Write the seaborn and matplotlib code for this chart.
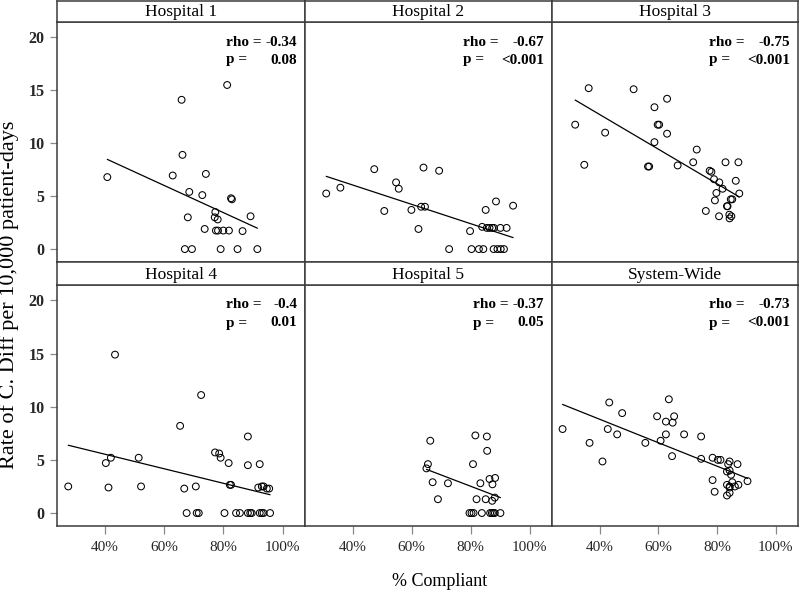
import numpy as np
import pandas as pd
import matplotlib
matplotlib.use("Agg")
import matplotlib.pyplot as plt
import seaborn as sns

# ---------------- data ----------------
panels = ["Hospital 1", "Hospital 2", "Hospital 3", "Hospital 4", "Hospital 5", "System-Wide"]

h1_compliance = [40.8, 65.9, 81.3, 66.2, 62.9, 74.1, 68.5, 72.9, 82.6, 82.9, 89.2, 77.3, 77.1,
                 78.1, 68.0, 73.7, 77.5, 78.2, 80.0, 81.9, 86.5, 67.0, 69.4, 79.1, 84.8, 91.5]
h1_rate = [6.8, 14.1, 15.5, 8.9, 6.95, 7.1, 5.4, 5.1, 4.8, 4.7, 3.1, 3.5, 3.0,
           2.8, 3.0, 1.9, 1.75, 1.75, 1.75, 1.75, 1.7, 0, 0, 0, 0, 0]

h2_compliance = [31.0, 35.8, 47.3, 54.7, 55.6, 50.7, 59.9, 63.2, 64.5, 64.0, 69.3, 62.3, 72.7,
                 79.8, 80.3, 82.8, 84.3, 85.1, 88.6, 94.4, 83.9, 85.5, 86.4, 87.3, 87.9, 90.1,
                 92.2, 87.8, 89.1, 90.2, 91.3]
h2_rate = [5.25, 5.8, 7.55, 6.3, 5.7, 3.6, 3.7, 4.0, 4.0, 7.7, 7.4, 1.9, 0,
           1.7, 0, 0, 0, 3.7, 4.5, 4.1, 2.1, 2.0, 2.0, 2.0, 2.0, 2.0,
           2.0, 0, 0, 0, 0]

h3_compliance = [36.3, 51.6, 63.0, 58.7, 31.7, 41.9, 59.8, 60.3, 63.0, 58.7, 73.1, 34.8, 56.5,
                 56.9, 66.6, 71.9, 77.5, 78.1, 82.9, 87.3, 79.0, 80.8, 86.4, 81.9, 79.8, 87.6,
                 79.3, 84.7, 85.2, 83.4, 83.6, 76.2, 80.7, 84.2, 84.9, 84.3]
h3_rate = [15.2, 15.1, 14.2, 13.4, 11.75, 11.0, 11.75, 11.75, 10.9, 10.1, 9.4, 7.96, 7.8,
           7.8, 7.9, 8.2, 7.4, 7.3, 8.2, 8.2, 6.6, 6.3, 6.45, 5.7, 5.3, 5.25,
           4.6, 4.7, 4.7, 4.05, 4.05, 3.6, 3.1, 3.25, 3.1, 2.9]

h4_compliance = [27.6, 43.4, 40.3, 42.0, 41.2, 51.4, 52.2, 65.4, 72.5, 66.8, 70.7, 67.6, 71.0,
                 71.7, 77.2, 78.6, 79.1, 81.8, 82.2, 82.6, 80.4, 84.3, 85.6, 88.3, 88.3, 92.3,
                 88.3, 89.1, 89.6, 91.8, 93.0, 93.6, 94.7, 95.5, 92.3, 93.0, 93.6, 95.8]
h4_rate = [2.5, 14.9, 4.7, 5.2, 2.4, 5.2, 2.5, 8.2, 11.1, 2.3, 2.5, 0, 0,
           0, 5.7, 5.6, 5.2, 4.7, 2.65, 2.65, 0, 0, 0, 7.2, 4.5, 4.6,
           0, 0, 0, 2.4, 2.5, 2.5, 2.3, 2.3, 0, 0, 0, 0]

h5_compliance = [66.3, 65.5, 65.0, 67.1, 72.3, 68.9, 81.6, 85.5, 85.6, 80.8, 83.3, 86.4, 88.3,
                 87.4, 82.0, 85.1, 87.3, 88.2, 79.6, 80.3, 81.0, 83.8, 86.6, 87.2, 87.7, 88.2, 90.1]
h5_rate = [6.8, 4.6, 4.2, 2.9, 2.8, 1.3, 7.3, 7.2, 5.85, 4.6, 2.8, 3.2, 3.3,
           2.7, 1.3, 1.3, 1.15, 1.45, 0, 0, 0, 0, 0, 0, 0, 0, 0]

sw_compliance = [27.4, 43.3, 47.7, 42.8, 46.0, 36.6, 41.0, 55.6, 63.6, 59.6, 65.4, 62.6, 64.9,
                 62.6, 60.8, 68.8, 74.6, 64.7, 74.6, 78.5, 80.3, 81.2, 84.3, 83.8, 87.0, 83.4,
                 84.3, 84.8, 78.5, 90.4, 85.2, 83.4, 84.3, 86.1, 87.3, 79.2, 84.3, 84.3, 83.4]
sw_rate = [7.9, 10.4, 9.4, 7.9, 7.4, 6.6, 4.85, 6.6, 10.7, 9.1, 9.1, 8.6, 8.5,
           7.4, 6.8, 7.4, 7.2, 5.35, 5.1, 5.2, 5.0, 5.0, 4.85, 4.6, 4.6, 3.9,
           4.0, 3.6, 3.1, 3.0, 2.9, 2.65, 2.5, 2.5, 2.65, 2.0, 2.4, 1.9, 1.65]

rho_text = ["-0.34", "-0.67", "-0.75", "-0.4", "-0.37", "-0.73"]
p_text = ["0.08", "<0.001", "<0.001", "0.01", "0.05", "<0.001"]

x_ticks = [40, 60, 80, 100]
x_tick_labels = ["40%", "60%", "80%", "100%"]
y_ticks = [0, 5, 10, 15, 20]

compliance = [h1_compliance, h2_compliance, h3_compliance, h4_compliance, h5_compliance, sw_compliance]
rates = [h1_rate, h2_rate, h3_rate, h4_rate, h5_rate, sw_rate]

df = pd.concat([pd.DataFrame({"panel": name, "compliance": c, "rate": r})
                for name, c, r in zip(panels, compliance, rates)], ignore_index=True)

# ---------------- style ----------------
sns.set_theme(style="white")
plt.rcParams["font.family"] = ["Liberation Serif", "DejaVu Serif"]
plt.rcParams["text.color"] = "black"

W, H = 800, 596
fig = plt.figure(figsize=(W / 100, H / 100), dpi=100)
fig.patch.set_facecolor("white")

col_left = [57, 305, 552]
col_width = [248, 247, 246]
row_plot = [(22, 262), (285, 526)]
row_head = [(0.6, 22), (262, 285)]
label_offset_px = [79, 89, 89, 79, 79, 89]

spine_color = "#3c3c3c"
spine_lw = 1.1
stat_fs = 11

def rect(x0, y0, x1, y1):
    return [x0 / W, 1 - y1 / H, (x1 - x0) / W, (y1 - y0) / H]

for i, name in enumerate(panels):
    r, c = divmod(i, 3)
    x0 = col_left[c]
    x1 = x0 + col_width[c]
    ax = fig.add_axes(rect(x0, row_plot[r][0], x1, row_plot[r][1]))
    hax = fig.add_axes(rect(x0, row_head[r][0], x1, row_head[r][1]))

    sub = df[df["panel"] == name]
    sns.regplot(data=sub, x="compliance", y="rate", ax=ax, scatter=False, ci=None,
                truncate=True, color="black", line_kws=dict(lw=0.9))
    sns.scatterplot(data=sub, x="compliance", y="rate", ax=ax, marker="o", s=24,
                    facecolor="none", edgecolor="black", linewidth=0.75, zorder=3)

    ax.set_xlim(23.8, 107.6)
    ax.set_ylim(-1.22, 21.45)
    ax.set_xlabel("")
    ax.set_ylabel("")
    ax.set_facecolor("white")
    for s in ax.spines.values():
        s.set_visible(True)
        s.set_color(spine_color)
        s.set_linewidth(spine_lw)

    ax.set_xticks(x_ticks)
    ax.set_yticks(y_ticks)
    if r == 1:
        ax.set_xticklabels(x_tick_labels)
        ax.tick_params(axis="x", bottom=True, length=6, width=0.9, color="#8a8a8a",
                       labelsize=11, pad=5, direction="out")
    else:
        ax.tick_params(axis="x", bottom=False, labelbottom=False)
    if c == 0:
        ax.set_yticklabels([str(v) for v in y_ticks], fontweight="bold")
        ax.tick_params(axis="y", left=True, length=5, width=0.9, color="#8a8a8a",
                       labelsize=11.5, pad=4, direction="out")
    else:
        ax.tick_params(axis="y", left=False, labelleft=False)

    off = label_offset_px[i] * 0.72
    ax.annotate("rho =", xy=(1, 1), xycoords="axes fraction", xytext=(-off, -20 * 0.72),
                textcoords="offset points", ha="left", va="center", fontsize=stat_fs,
                fontweight="bold")
    ax.annotate("p =", xy=(1, 1), xycoords="axes fraction", xytext=(-off, -38 * 0.72),
                textcoords="offset points", ha="left", va="center", fontsize=stat_fs,
                fontweight="bold")
    ax.annotate(rho_text[i], xy=(1, 1), xycoords="axes fraction", xytext=(-8 * 0.72, -20 * 0.72),
                textcoords="offset points", ha="right", va="center", fontsize=stat_fs,
                fontweight="bold")
    ax.annotate(p_text[i], xy=(1, 1), xycoords="axes fraction", xytext=(-8 * 0.72, -38 * 0.72),
                textcoords="offset points", ha="right", va="center", fontsize=stat_fs,
                fontweight="bold")

    hax.set_xticks([])
    hax.set_yticks([])
    hax.set_facecolor("white")
    for s in hax.spines.values():
        s.set_visible(True)
        s.set_color(spine_color)
        s.set_linewidth(spine_lw)
    hax.text(0.5, 0.45, name, transform=hax.transAxes, ha="center", va="center", fontsize=12.5)

fig.text(9 / W, 1 - 295 / H, "Rate of C. Diff per 10,000 patient-days", rotation=90,
         ha="center", va="center", fontsize=16)
fig.text(440 / W, 1 - 582 / H, "% Compliant", ha="center", va="center", fontsize=13)

fig.savefig("out.png", dpi=100, facecolor="white")
